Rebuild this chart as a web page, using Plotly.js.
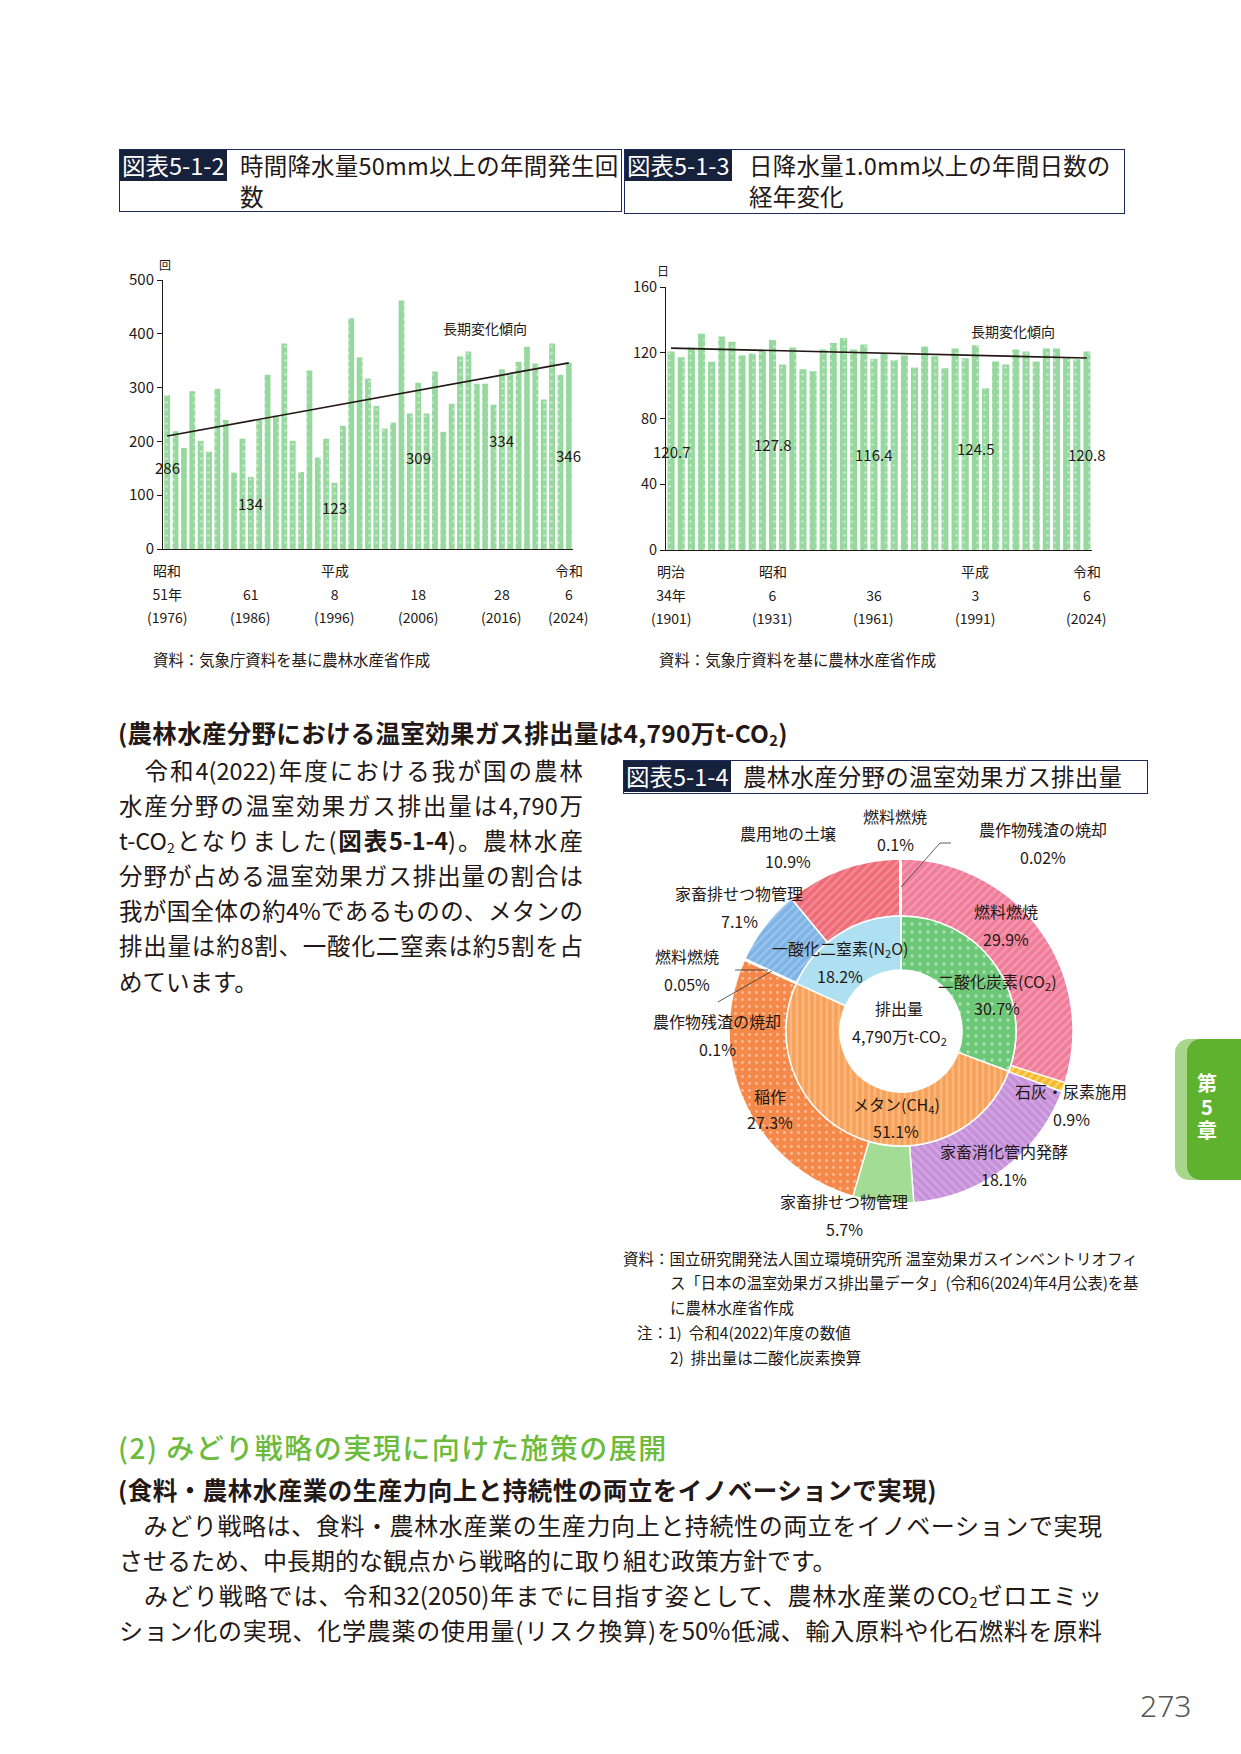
<!DOCTYPE html>
<html>
<head>
<meta charset="utf-8">
<script src="https://cdn.plot.ly/plotly-3.0.1.min.js"></script>
<style>
  html, body { margin: 0; padding: 0; background: #ffffff; }
  #page { position: relative; width: 1241px; height: 1754px; overflow: hidden;
          font-family: "Noto Sans CJK JP", "Noto Sans", sans-serif; color: #231815; }
  .abs { position: absolute; white-space: nowrap; }
  .tbox { position: absolute; border: 1.5px solid #1d2a5b; box-sizing: border-box; }
  .tlabel { position: absolute; left: 0; top: 0; background: #16213b; color: #fff;
            font-size: 23.5px; line-height: 31px; padding: 0 3px 0 2px; }
  .ttext { position: absolute; font-size: 23.5px; line-height: 31px; white-space: nowrap; letter-spacing: 0.2px; }
  .jl { position: absolute; text-align: justify; text-align-last: justify; overflow: visible; }
  .chart { position: absolute; }
  sub { font-size: 0.6em; vertical-align: -0.2em; line-height: 0; }
</style>
</head>
<body>
<div id="page">

  <!-- figure titles -->
  <div class="tbox" style="left:119px;top:149px;width:503px;height:63px;">
    <div class="tlabel">図表5-1-2</div>
    <div class="ttext" style="left:120px;top:0;">時間降水量50mm以上の年間発生回<br>数</div>
  </div>
  <div class="tbox" style="left:624px;top:149px;width:501px;height:65px;">
    <div class="tlabel">図表5-1-3</div>
    <div class="ttext" style="left:124px;top:0;">日降水量1.0mm以上の年間日数の<br>経年変化</div>
  </div>

  <div id="chart512" class="chart" style="left:110px;top:230px;width:480px;height:420px;"></div>
  <div id="chart513" class="chart" style="left:620px;top:230px;width:500px;height:420px;"></div>

  <div class="abs" style="left:153px;top:648px;font-size:15.4px;line-height:22px;">資料：気象庁資料を基に農林水産省作成</div>
  <div class="abs" style="left:659px;top:648px;font-size:15.4px;line-height:22px;">資料：気象庁資料を基に農林水産省作成</div>

  <!-- section heading -->
  <div class="abs" style="left:118px;top:716px;font-size:24.5px;line-height:34px;font-weight:bold;letter-spacing:0.3px;">(農林水産分野における温室効果ガス排出量は4,790万t-CO<sub>2</sub>)</div>

  <!-- left paragraph -->
  <div class="jl" style="left:119px;top:753px;width:464px;font-size:23.5px;line-height:34px;">&#12288;令和4(2022)年度における我が国の農林</div>
  <div class="jl" style="left:119px;top:788px;width:464px;font-size:23.5px;line-height:34px;">水産分野の温室効果ガス排出量は4,790万</div>
  <div class="jl" style="left:119px;top:823px;width:464px;font-size:23.5px;line-height:34px;">t-CO<sub>2</sub>となりました(<b>図表5-1-4</b>)。農林水産</div>
  <div class="jl" style="left:119px;top:858px;width:464px;font-size:23.5px;line-height:34px;">分野が占める温室効果ガス排出量の割合は</div>
  <div class="jl" style="left:119px;top:893px;width:464px;font-size:23.5px;line-height:34px;">我が国全体の約4%であるものの、メタンの</div>
  <div class="jl" style="left:119px;top:928px;width:464px;font-size:23.5px;line-height:34px;">排出量は約8割、一酸化二窒素は約5割を占</div>
  <div class="abs" style="left:119px;top:964px;font-size:23.5px;line-height:34px;">めています。</div>

  <!-- figure 5-1-4 -->
  <div class="tbox" style="left:623px;top:760px;width:525px;height:34px;">
    <div class="tlabel">図表5-1-4</div>
    <div class="ttext" style="left:119px;top:0;">農林水産分野の温室効果ガス排出量</div>
  </div>
  <div id="chart514" class="chart" style="left:620px;top:800px;width:530px;height:440px;"></div>

  <div class="abs" style="left:623px;top:1247px;font-size:15.5px;line-height:22px;">資料：国立研究開発法人国立環境研究所 温室効果ガスインベントリオフィ</div>
  <div class="abs" style="left:670px;top:1271px;font-size:15.5px;line-height:22px;letter-spacing:-0.2px;">ス「日本の温室効果ガス排出量データ」(令和6(2024)年4月公表)を基</div>
  <div class="abs" style="left:670px;top:1296px;font-size:15.5px;line-height:22px;">に農林水産省作成</div>
  <div class="abs" style="left:637px;top:1321px;font-size:15.5px;line-height:22px;">注：1)&nbsp;&nbsp;令和4(2022)年度の数値</div>
  <div class="abs" style="left:670px;top:1346px;font-size:15.5px;line-height:22px;">2)&nbsp;&nbsp;排出量は二酸化炭素換算</div>

  <!-- bottom section -->
  <div class="abs" style="left:118px;top:1428px;font-size:28px;line-height:38px;color:#6cbb3c;font-weight:500;letter-spacing:1.5px;">(2)&nbsp;みどり戦略の実現に向けた施策の展開</div>
  <div class="abs" style="left:118px;top:1473px;font-size:24.5px;line-height:34px;font-weight:bold;letter-spacing:0.5px;">(食料・農林水産業の生産力向上と持続性の両立をイノベーションで実現)</div>
  <div class="jl" style="left:119px;top:1508px;width:983px;font-size:24px;line-height:34px;">&#12288;みどり戦略は、食料・農林水産業の生産力向上と持続性の両立をイノベーションで実現</div>
  <div class="abs" style="left:119px;top:1543px;font-size:24px;line-height:34px;">させるため、中長期的な観点から戦略的に取り組む政策方針です。</div>
  <div class="jl" style="left:119px;top:1578px;width:983px;font-size:24px;line-height:34px;">&#12288;みどり戦略では、令和32(2050)年までに目指す姿として、農林水産業のCO<sub>2</sub>ゼロエミッ</div>
  <div class="jl" style="left:119px;top:1613px;width:983px;font-size:24px;line-height:34px;">ション化の実現、化学農薬の使用量(リスク換算)を50%低減、輸入原料や化石燃料を原料</div>

  <!-- page number -->
  <div class="abs" style="left:1140px;top:1686px;font-family:'Noto Sans',sans-serif;font-weight:300;font-size:30px;line-height:40px;color:#555;">273</div>

  <!-- chapter tab -->
  <div style="position:absolute;left:1175px;top:1039px;width:80px;height:141px;background:#a9d68b;border-radius:14px 0 0 14px;"></div>
  <div style="position:absolute;left:1187px;top:1039px;width:70px;height:141px;background:#5fb22e;border-radius:14px 0 0 14px;"></div>
  <div class="abs" style="left:1187px;top:1071px;width:40px;text-align:center;color:#fff;font-weight:bold;font-size:20px;line-height:23.5px;">第<br>5<br>章</div>
</div>

<script>
// ---------------- data: 図表5-1-2 ----------------
const years512 = [1976,1977,1978,1979,1980,1981,1982,1983,1984,1985,
                  1986,1987,1988,1989,1990,1991,1992,1993,1994,1995,
                  1996,1997,1998,1999,2000,2001,2002,2003,2004,2005,
                  2006,2007,2008,2009,2010,2011,2012,2013,2014,2015,
                  2016,2017,2018,2019,2020,2021,2022,2023,2024];
const counts512 = [286,219,188,293,201,181,298,240,142,205,
                   134,240,324,248,382,201,143,332,170,205,
                   123,229,429,356,317,266,224,235,462,252,
                   309,252,330,218,270,358,367,307,307,268,
                   334,325,348,376,345,278,382,324,346];
const trendYears512 = [1976, 2024];
const trendValues512 = [210, 346];
const labelYears512 = [1976, 1986, 1996, 2006, 2016, 2024];
const tickYears512 = [1976, 1986, 1996, 2006, 2016, 2024];
const tickEra512 = ['昭和', '', '平成', '', '', '令和'];
const tickNum512 = ['51年', '61', '8', '18', '28', '6'];
const tickWest512 = ['(1976)', '(1986)', '(1996)', '(2006)', '(2016)', '(2024)'];

// ---------------- data: 図表5-1-3 ----------------
const years513 = [1901,1904,1907,1910,1913,1916,1919,1922,1925,1928,
                  1931,1934,1937,1940,1943,1946,1949,1952,1955,1958,
                  1961,1964,1967,1970,1973,1976,1979,1982,1985,1988,
                  1991,1994,1997,2000,2003,2006,2009,2012,2015,2018,
                  2021,2024];
const days513 = [120.7,117.2,123.2,131.5,114.5,129.9,126.7,118.4,119.6,121.6,
                 127.8,112.9,123.2,109.9,108.7,122.0,126.0,129.0,122.0,125.0,
                 116.4,119.4,115.4,118.4,111.0,123.8,117.8,110.5,122.6,116.6,
                 124.5,98.4,114.7,112.9,122.0,120.8,114.7,122.6,122.6,116.6,
                 116.0,120.8];
const trendYears513 = [1901, 2024];
const trendValues513 = [122.8, 116.8];
const labelYears513 = [1901, 1931, 1961, 1991, 2024];
const tickYears513 = [1901, 1931, 1961, 1991, 2024];
const tickEra513 = ['明治', '昭和', '', '平成', '令和'];
const tickNum513 = ['34年', '6', '36', '3', '6'];
const tickWest513 = ['(1901)', '(1931)', '(1961)', '(1991)', '(2024)'];

// ---------------- data: 図表5-1-4 ----------------
const gasNames = ['二酸化炭素(CO<sub>2</sub>)', 'メタン(CH<sub>4</sub>)', '一酸化二窒素(N<sub>2</sub>O)'];
const gasShares = [30.7, 51.1, 18.2];
const sourceNames = ['燃料燃焼', '石灰・尿素施用', '家畜消化管内発酵', '家畜排せつ物管理', '稲作',
                     '農作物残渣の焼却', '燃料燃焼', '家畜排せつ物管理', '農用地の土壌',
                     '農作物残渣の焼却', '燃料燃焼'];
const sourceShares = [29.9, 0.9, 18.1, 5.7, 27.3, 0.1, 0.05, 7.1, 10.9, 0.02, 0.1];
const centerTitle = '排出量';
const centerTotal = '4,790万t-CO<sub>2</sub>';

// ---------------- styles / positions (layout only) ----------------
const INK = '#231815';
const FONT = '"Noto Sans CJK JP", "Noto Sans", sans-serif';
const BAR_GREEN = '#97d89f';
const cfg = {staticPlot: true, displayModeBar: false};

const labelHeights512 = [151, 84, 78, 171, 201, 173];
const labelHeights513 = [60, 64, 58, 62, 58];

function tickRowAnnotations(xs, texts, shift) {
  return xs.map((x, i) => ({
    x: x, y: 0, xref: 'x', yref: 'paper', xanchor: 'center', yanchor: 'middle', yshift: shift,
    text: texts[i], showarrow: false, font: {size: 14, color: INK}
  })).filter(a => a.text !== '');
}

function barChart(div, xs, ys, trendX, trendY, labelYears, labelHeights, opts) {
  const labelAnn = labelYears.map((yr, i) => ({
    x: yr, y: labelHeights[i], xref: 'x', yref: 'y', xanchor: 'center', yanchor: 'middle', showarrow: false,
    text: String(ys[xs.indexOf(yr)]), font: {size: 15, color: INK}
  }));
  const traces = [
    {type: 'bar', x: xs, y: ys,
     marker: {color: BAR_GREEN, line: {width: 0},
              pattern: {shape: '.', fgcolor: 'rgba(255,255,255,0.9)', size: 7, solidity: 0.12, fillmode: 'overlay'}},
     hoverinfo: 'none'},
    {type: 'scatter', mode: 'lines', x: trendX, y: trendY,
     line: {color: INK, width: 1.6}, hoverinfo: 'none'}
  ];
  const layout = {
    width: opts.w, height: 420,
    margin: opts.margin,
    paper_bgcolor: 'rgba(0,0,0,0)', plot_bgcolor: 'rgba(0,0,0,0)',
    font: {family: FONT, size: 14, color: INK},
    showlegend: false, bargap: 0.3,
    xaxis: {range: opts.xrange, tickvals: opts.tickYears, ticktext: opts.tickNum,
            ticks: '', showline: true, linecolor: INK, linewidth: 1,
            showgrid: false, zeroline: false, ticklabelstandoff: opts.standoff,
            tickfont: {size: 14, color: INK}},
    yaxis: {range: opts.yrange, dtick: opts.dtick, ticks: 'outside', ticklen: 5,
            tickcolor: INK, showline: true, linecolor: INK, linewidth: 1,
            showgrid: false, zeroline: false, tickfont: {size: opts.ytickSize, color: INK}},
    annotations: [
      ...labelAnn,
      {x: opts.trendLabelX, y: opts.trendLabelY, xref: 'x', yref: 'y', xanchor: 'center', yanchor: 'middle',
       showarrow: false, text: '長期変化傾向', font: {size: 14, color: INK}},
      {x: 0, y: 1, xref: 'paper', yref: 'paper', xanchor: 'center', yanchor: 'middle',
       xshift: opts.unitShiftX, yshift: opts.unitShiftY, showarrow: false,
       text: opts.unit, font: {size: 12, color: INK}},
      ...tickRowAnnotations(opts.tickYears, opts.tickEra, -21),
      ...tickRowAnnotations(opts.tickYears, opts.tickWest, -68)
    ]
  };
  Plotly.newPlot(div, traces, layout, cfg);
}

barChart('chart512', years512, counts512, trendYears512, trendValues512, labelYears512, labelHeights512, {
  w: 480, margin: {l: 53, r: 17, t: 50, b: 101},
  xrange: [1975.5, 2024.5], yrange: [0, 500], dtick: 100, ytickSize: 15,
  tickYears: tickYears512, tickNum: tickNum512, tickEra: tickEra512, tickWest: tickWest512,
  standoff: 33, trendLabelX: 2014, trendLabelY: 410, unit: '回', unitShiftX: 2, unitShiftY: 16
});

barChart('chart513', years513, days513, trendYears513, trendValues513, labelYears513, labelHeights513, {
  w: 500, margin: {l: 46, r: 28, t: 57, b: 100},
  xrange: [1899.5, 2025.5], yrange: [0, 160], dtick: 40, ytickSize: 14.5,
  tickYears: tickYears513, tickNum: tickNum513, tickEra: tickEra513, tickWest: tickWest513,
  standoff: 33, trendLabelX: 2002, trendLabelY: 133, unit: '日', unitShiftX: -3, unitShiftY: 17
});

// ---------------- donut ----------------
(function () {
  const W = 530, H = 440, LEFT = 620, TOP = 800;
  const CX = 901, CY = 1031, R_OUT = 172, R_MID = 115, R_IN = 61;
  const px = X => (X - LEFT) / W;
  const py = Y => 1 - (Y - TOP) / H;
  const dom = r => ({x: [px(CX - r), px(CX + r)], y: [py(CY + r), py(CY - r)]});

  const innerColors = ['#6cc877', '#f7a15a', '#aee0f1'];
  const innerPattern = {shape: ['.', '|', ''],
    fgcolor: ['rgba(255,255,255,0.85)', 'rgba(255,214,170,0.85)', 'rgba(255,255,255,0)'],
    size: [8, 6, 6], solidity: [0.14, 0.4, 0.01], fillmode: 'overlay'};
  const outerColors = ['#f07c99', '#f6b626', '#c690da', '#a3dd95', '#f5894a', '#f5894a',
                       '#f5894a', '#7db3e5', '#ef6a76', '#f07c99', '#f07c99'];
  const outerPattern = {shape: ['/', '/', '\\', '', '.', '', '', '/', '/', '', ''],
    fgcolor: ['rgba(255,255,255,0.45)', 'rgba(255,245,190,0.9)', 'rgba(255,255,255,0.4)', 'rgba(255,255,255,0)',
              'rgba(255,255,255,0.85)', 'rgba(255,255,255,0)', 'rgba(255,255,255,0)', 'rgba(255,255,255,0.45)',
              'rgba(255,255,255,0.45)', 'rgba(255,255,255,0)', 'rgba(255,255,255,0)'],
    size: [6, 6, 6, 6, 7, 6, 6, 6, 6, 6, 6],
    solidity: [0.4, 0.45, 0.4, 0.01, 0.14, 0.01, 0.01, 0.4, 0.4, 0.01, 0.01], fillmode: 'overlay'};

  const traces = [
    {type: 'pie', values: sourceShares, labels: sourceNames.map((n, i) => n + '#' + i),
     sort: false, direction: 'clockwise', rotation: 0, hole: R_MID / R_OUT,
     domain: dom(R_OUT), textinfo: 'none', hoverinfo: 'none', showlegend: false,
     marker: {colors: outerColors, line: {color: '#ffffff', width: 1.5}, pattern: outerPattern}},
    {type: 'pie', values: gasShares, labels: gasNames,
     sort: false, direction: 'clockwise', rotation: 0, hole: R_IN / R_MID,
     domain: dom(R_MID), textinfo: 'none', hoverinfo: 'none', showlegend: false,
     marker: {colors: innerColors, line: {color: '#ffffff', width: 1.5}, pattern: innerPattern}}
  ];

  // label placement: [centerX, nameY, valueY] in page px
  const sourceLabelPos = [[1006, 911, 939], [1071, 1091, 1119], [1004, 1151, 1179], [844, 1201, 1229],
                          [770, 1096, 1122], [717, 1021, 1049], [687, 956, 984], [739, 893, 921],
                          [788, 833, 861], [1043, 829, 857], [895, 816, 844]];
  const gasLabelPos = [[997, 981, 1008], [896, 1104, 1131], [840, 948, 976]];
  const centerPos = [899, 1008, 1036];

  const ann = [];
  const addPair = (name, value, p) => {
    ann.push({x: px(p[0]), y: py(p[1]), xref: 'paper', yref: 'paper', xanchor: 'center', yanchor: 'middle',
              showarrow: false, text: name, font: {size: 16, color: INK}});
    ann.push({x: px(p[0]), y: py(p[2]), xref: 'paper', yref: 'paper', xanchor: 'center', yanchor: 'middle',
              showarrow: false, text: value, font: {size: 16, color: INK}});
  };
  sourceNames.forEach((n, i) => addPair(n, sourceShares[i] + '%', sourceLabelPos[i]));
  gasNames.forEach((n, i) => addPair(n, gasShares[i] + '%', gasLabelPos[i]));
  addPair(centerTitle, centerTotal, centerPos);

  const seg = (x0, y0, x1, y1) => ({type: 'line', xref: 'paper', yref: 'paper',
    x0: px(x0), y0: py(y0), x1: px(x1), y1: py(y1), line: {color: '#333', width: 0.8}});
  const shapes = [seg(901, 887, 940, 843), seg(940, 843, 951, 843),
                  seg(735, 970, 768, 970), seg(772, 971, 718, 1002)];

  Plotly.newPlot('chart514', traces, {
    width: W, height: H, margin: {l: 0, r: 0, t: 0, b: 0},
    paper_bgcolor: 'rgba(0,0,0,0)', plot_bgcolor: 'rgba(0,0,0,0)',
    font: {family: FONT, size: 16, color: INK}, showlegend: false,
    annotations: ann, shapes: shapes
  }, cfg);
})();
</script>
</body>
</html>
